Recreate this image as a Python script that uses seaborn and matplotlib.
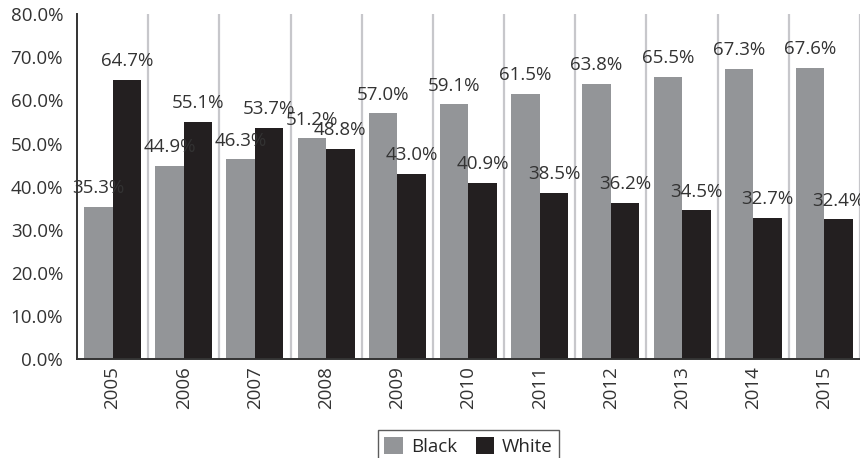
import pandas as pd
import matplotlib
matplotlib.use("Agg")
import matplotlib.pyplot as plt
import seaborn as sns

years = ["2005", "2006", "2007", "2008", "2009", "2010",
         "2011", "2012", "2013", "2014", "2015"]
black = [35.3, 44.9, 46.3, 51.2, 57.0, 59.1, 61.5, 63.8, 65.5, 67.3, 67.6]
white = [64.7, 55.1, 53.7, 48.8, 43.0, 40.9, 38.5, 36.2, 34.5, 32.7, 32.4]
groups = ["Black", "White"]
colors = ["#939598", "#231F20"]

df = pd.DataFrame({
    "year": years * 2,
    "group": [groups[0]] * len(years) + [groups[1]] * len(years),
    "value": black + white,
})

sns.set_style("white")
plt.rcParams["font.family"] = ["Open Sans", "DejaVu Sans"]

fig = plt.figure(figsize=(8.6, 4.58), dpi=100)
ax = fig.add_axes([0.0895, 0.216, 0.9105, 0.753])

sns.barplot(data=df, x="year", y="value", hue="group", palette=colors,
            width=0.8, saturation=1, linewidth=0, ax=ax, legend=True)

# light vertical separators between years
for i in range(len(years)):
    ax.axvline(i + 0.5, color="#C7C7CB", lw=1.6, zorder=0)

# value labels sit a bit above each bar
for cont in ax.containers:
    ax.bar_label(cont, labels=[f"{v:.1f}%" for v in cont.datavalues],
                 padding=7, fontsize=13.5, color="#333333")

ax.set_xlim(-0.5, len(years) - 0.5)
ax.set_ylim(0, 80)
ax.set_yticks(range(0, 81, 10))
ax.set_yticklabels([f"{t:.1f}%" for t in range(0, 81, 10)])
ax.set_xlabel("")
ax.set_ylabel("")
ax.tick_params(axis="both", length=0, labelsize=13.5, colors="#333333")
ax.tick_params(axis="y", pad=10)
ax.tick_params(axis="x", pad=5)
plt.setp(ax.get_xticklabels(), rotation=90)

for s in ["top", "right"]:
    ax.spines[s].set_visible(False)
for s in ["left", "bottom"]:
    ax.spines[s].set_color("#333333")
    ax.spines[s].set_linewidth(1.4)

leg = ax.legend(loc="upper center", bbox_to_anchor=(0.5, -0.207), ncol=2,
                frameon=True, fontsize=13.5, fancybox=False,
                handlelength=1.0, handleheight=1.0, columnspacing=1.0,
                handletextpad=0.4, borderpad=0.35, borderaxespad=0)
leg.get_frame().set_edgecolor("#333333")
leg.get_frame().set_linewidth(1.0)

fig.savefig("out.png", dpi=100)
